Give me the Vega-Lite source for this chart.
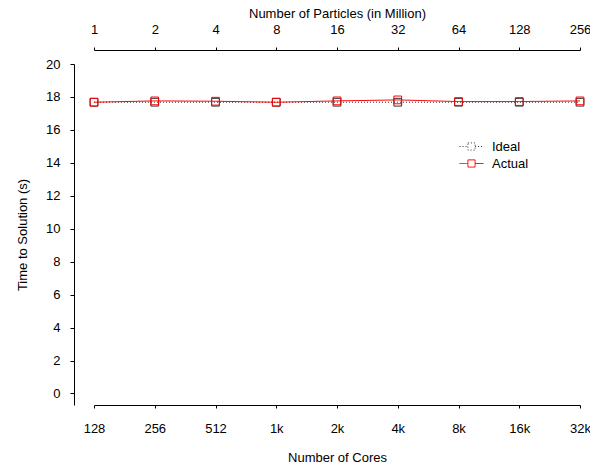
{
  "$schema": "https://vega.github.io/schema/vega-lite/v6.json",
  "autosize": "none",
  "width": 486,
  "height": 341,
  "padding": {"left": 94, "top": 64, "right": 10, "bottom": 64},
  "background": "white",
  "config": {
    "view": {"stroke": null},
    "font": "Liberation Sans",
    "axis": {"grid": false, "domainColor": "#000", "tickColor": "#000", "labelColor": "#000", "titleColor": "#000", "labelFont": "Liberation Sans", "titleFont": "Liberation Sans", "labelFontSize": 13, "titleFontSize": 13, "titleFontWeight": "normal", "domainWidth": 1, "tickWidth": 1, "labelOverlap": false}
  },
  "data": {"values": [
    {"i": 0, "series": "Ideal", "t": 17.68},
    {"i": 1, "series": "Ideal", "t": 17.68},
    {"i": 2, "series": "Ideal", "t": 17.68},
    {"i": 3, "series": "Ideal", "t": 17.68},
    {"i": 4, "series": "Ideal", "t": 17.68},
    {"i": 5, "series": "Ideal", "t": 17.68},
    {"i": 6, "series": "Ideal", "t": 17.68},
    {"i": 7, "series": "Ideal", "t": 17.68},
    {"i": 8, "series": "Ideal", "t": 17.68},
    {"i": 0, "series": "Actual", "t": 17.68},
    {"i": 1, "series": "Actual", "t": 17.76},
    {"i": 2, "series": "Actual", "t": 17.74},
    {"i": 3, "series": "Actual", "t": 17.68},
    {"i": 4, "series": "Actual", "t": 17.76},
    {"i": 5, "series": "Actual", "t": 17.82},
    {"i": 6, "series": "Actual", "t": 17.72},
    {"i": 7, "series": "Actual", "t": 17.72},
    {"i": 8, "series": "Actual", "t": 17.76}
  ]},
  "resolve": {"axis": {"x": "independent"}},
  "encoding": {
    "y": {"field": "t", "type": "quantitative", "scale": {"domain": [-0.7, 20], "nice": false, "zero": false},
      "axis": {"values": [0,2,4,6,8,10,12,14,16,18,20], "title": "Time to Solution (s)", "offset": 20, "tickSize": 4, "labelPadding": 10, "titlePadding": 16, "labelOverlap": false}}
  },
  "layer": [
    {
      "mark": {"type": "line", "strokeWidth": 1},
      "encoding": {
        "x": {"field": "i", "type": "quantitative", "scale": {"domain": [0, 8], "nice": false},
          "axis": {"orient": "bottom", "values": [0,1,2,3,4,5,6,7,8], "labelExpr": "['128','256','512','1k','2k','4k','8k','16k','32k'][datum.value]", "title": "Number of Cores", "tickSize": 3, "labelPadding": 14, "titlePadding": 16, "labelFlush": false, "labelOverlap": false}},
        "color": {"field": "series", "type": "nominal", "scale": {"domain": ["Ideal", "Actual"], "range": ["#333333", "#ff0000"]},
          "legend": {"orient": "none", "legendX": 365, "legendY": 76, "title": null, "symbolType": "M-2,0H-0.6M0.6,0H2M-0.6,-0.6H0.6V0.6H-0.6Z", "symbolSize": 144, "symbolStrokeWidth": 1, "symbolFillColor": "transparent", "labelFontSize": 13, "labelFont": "Liberation Sans", "labelColor": "#000", "rowPadding": 3, "labelOffset": 14, "symbolOffset": 6}},
        "strokeDash": {"field": "series", "type": "nominal", "scale": {"domain": ["Ideal", "Actual"], "range": [[1, 2], [1, 0]]}, "legend": null},
        "order": {"field": "i"}
      }
    },
    {
      "mark": {"type": "point", "shape": "square", "filled": false, "size": 60, "strokeWidth": 1, "opacity": 1},
      "encoding": {
        "x": {"field": "i", "type": "quantitative", "scale": {"domain": [0, 8], "nice": false},
          "axis": {"orient": "top", "values": [0,1,2,3,4,5,6,7,8], "labelExpr": "format(pow(2, datum.value), 'd')", "title": "Number of Particles (in Million)", "offset": 14, "tickSize": 3, "labelPadding": 11, "titlePadding": 3, "labelFlush": false, "labelOverlap": false}},
        "color": {"field": "series", "type": "nominal"},
        "order": {"field": "i"}
      }
    }
  ]
}
